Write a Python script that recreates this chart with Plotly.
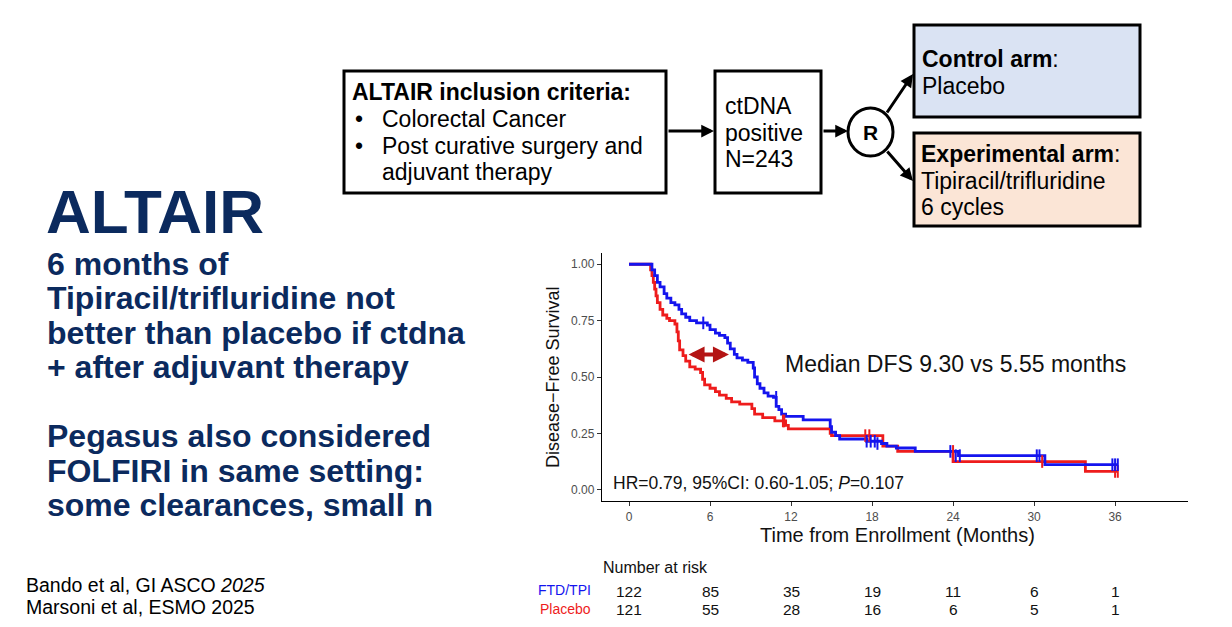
import plotly.graph_objects as go

# page offset of the plot div (body margin), and figure size that fits the window
OFF = 8
W, H = 1232 - 2 * OFF, 627 - 2 * OFF

# Kaplan-Meier, FTD/TPI (blue) - step times (months) and survival after each step
ftd_t = [0, 1.7, 1.9, 2.1, 2.3, 2.6, 2.8, 3.1, 3.4, 3.7, 3.9, 4.2, 4.5, 5.0, 5.8, 6.0,
         6.4, 6.7, 7.1, 7.3, 7.5, 7.8, 8.0, 8.4, 8.8, 9.2, 9.3, 9.5, 9.7, 10.0, 10.3,
         10.7, 10.9, 11.1, 11.3, 11.6, 12.9, 14.9, 15.0, 15.3, 15.6, 17.6, 18.7, 19.1,
         19.8, 21.2, 24.4, 30.8, 36.2]
ftd_s = [1.0, 0.975, 0.95, 0.92, 0.90, 0.87, 0.85, 0.83, 0.82, 0.80, 0.78, 0.765, 0.75,
         0.74, 0.73, 0.71, 0.695, 0.685, 0.675, 0.65, 0.625, 0.60, 0.585, 0.575, 0.565,
         0.54, 0.50, 0.47, 0.45, 0.43, 0.415, 0.41, 0.37, 0.355, 0.335, 0.325, 0.31,
         0.28, 0.255, 0.24, 0.225, 0.215, 0.205, 0.193, 0.185, 0.17, 0.151, 0.111, 0.111]

# Placebo (red)
pbo_t = [0, 1.6, 1.7, 1.8, 1.9, 2.0, 2.1, 2.3, 2.5, 2.8, 3.0, 3.4, 3.55, 3.65, 3.75, 4.0,
         4.2, 4.5, 4.9, 5.3, 5.45, 5.6, 6.0, 6.4, 6.7, 7.2, 7.6, 8.2, 9.1, 9.3, 9.9, 10.8,
         11.6, 11.8, 14.9, 15.0, 18.8, 19.9, 24.0, 33.8, 36.2]
pbo_s = [1.0, 0.975, 0.95, 0.92, 0.89, 0.86, 0.83, 0.80, 0.775, 0.76, 0.75, 0.735, 0.70,
         0.66, 0.62, 0.595, 0.57, 0.545, 0.535, 0.52, 0.49, 0.465, 0.45, 0.435, 0.42,
         0.405, 0.39, 0.38, 0.36, 0.335, 0.32, 0.305, 0.285, 0.27, 0.25, 0.24, 0.193,
         0.17, 0.125, 0.081, 0.081]

# censoring marks
ftd_cens_t = [5.5, 10.9, 17.6, 17.9, 18.2, 18.4, 23.8, 24.2, 24.5, 30.2, 30.4, 35.8, 36.0, 36.2]
ftd_cens_s = [0.74, 0.41, 0.215, 0.215, 0.215, 0.205, 0.17, 0.151, 0.151, 0.151, 0.151,
              0.111, 0.111, 0.111]
pbo_cens_t = [11.4, 11.5, 17.5, 17.8, 24.0, 30.6, 36.0, 36.2]
pbo_cens_s = [0.305, 0.305, 0.24, 0.24, 0.17, 0.125, 0.081, 0.081]

# number at risk
risk_times = [0, 6, 12, 18, 24, 30, 36]
risk_ftd = [122, 85, 35, 19, 11, 6, 1]
risk_placebo = [121, 55, 28, 16, 6, 5, 1]

BLUE = "#1414EE"
RED = "#EE1C1C"
NAVY = "#0B2A5E"
FONT = "Arial, Liberation Sans, sans-serif"


def px(x):
    return (x - OFF) / W


def py(y):
    return 1 - (y - OFF) / H


fig = go.Figure()

# KM curves
fig.add_trace(go.Scatter(x=pbo_t, y=pbo_s, mode="lines", line=dict(color=RED, width=2.8, shape="hv"),
                         showlegend=False, hoverinfo="skip"))
fig.add_trace(go.Scatter(x=ftd_t, y=ftd_s, mode="lines", line=dict(color=BLUE, width=2.8, shape="hv"),
                         showlegend=False, hoverinfo="skip"))
fig.add_trace(go.Scatter(x=pbo_cens_t, y=pbo_cens_s, mode="markers",
                         marker=dict(symbol="line-ns-open", size=9, color=RED, line=dict(color=RED, width=2)),
                         showlegend=False, hoverinfo="skip"))
fig.add_trace(go.Scatter(x=ftd_cens_t, y=ftd_cens_s, mode="markers",
                         marker=dict(symbol="line-ns-open", size=9, color=BLUE, line=dict(color=BLUE, width=2)),
                         showlegend=False, hoverinfo="skip"))

annotations = []
shapes = []


def label(x, y, text, size=23, color="black", anchor="left", bold=False):
    if bold:
        text = "<b>" + text + "</b>"
    annotations.append(dict(x=px(x), y=py(y), xref="paper", yref="paper", text=text,
                            showarrow=False, xanchor=anchor, yanchor="middle",
                            font=dict(family=FONT, size=size, color=color)))


def arrow(x0, y0, x1, y1, width=3):
    annotations.append(dict(x=px(x1), y=py(y1), xref="paper", yref="paper", text="",
                            showarrow=True, ax=x0 - x1, ay=y0 - y1, arrowhead=2,
                            arrowsize=0.85, arrowwidth=width, arrowcolor="black", standoff=0))


def box(x0, y0, x1, y1, fill="white"):
    shapes.append(dict(type="rect", xref="paper", yref="paper", x0=px(x0), x1=px(x1),
                       y0=py(y1), y1=py(y0), line=dict(color="black", width=3), fillcolor=fill))


# flowchart
box(344, 71, 666, 193)
label(350, 92, "ALTAIR inclusion criteria:", bold=True)
label(353, 119, "•")
label(380, 119, "Colorectal Cancer")
label(353, 146, "•")
label(380, 146, "Post curative surgery and")
label(380, 172, "adjuvant therapy")
arrow(667, 131, 714, 131)

box(715, 71, 821, 193)
label(723, 106, "ctDNA")
label(723, 133, "positive")
label(723, 159, "N=243")
arrow(822, 131, 848, 131)

shapes.append(dict(type="circle", xref="paper", yref="paper", x0=px(848), x1=px(893),
                   y0=py(156), y1=py(108), line=dict(color="black", width=3), fillcolor="white"))
label(870.5, 132, "R", size=21, anchor="center", bold=True)
arrow(886, 114, 913, 74)
arrow(886, 150, 913, 181)

box(914, 25, 1140, 117, fill="#DAE3F3")
label(920, 59, "<b>Control arm</b>:")
label(920, 86, "Placebo")
box(914, 133, 1140, 226, fill="#FBE5D6")
label(919, 154, "<b>Experimental arm</b>:")
label(919, 181, "Tipiracil/trifluridine")
label(919, 207, "6 cycles")

# left text block
label(44, 212, "ALTAIR", size=62, color=NAVY, bold=True)
left_lines = [("6 months of", 264), ("Tipiracil/trifluridine not", 298),
              ("better than placebo if ctdna", 333), ("+ after adjuvant therapy", 367),
              ("Pegasus also considered", 436), ("FOLFIRI in same setting:", 471),
              ("some clearances, small n", 505)]
for txt, yy in left_lines:
    label(45, yy, txt, size=32, color=NAVY, bold=True)

label(24, 585, "Bando et al, GI ASCO <i>2025</i>", size=19.5)
label(24, 607, "Marsoni et al, ESMO 2025", size=19.5)

# KM annotations
annotations.append(dict(x=7.4, y=0.60, xref="x", yref="y", ax=4.3, ay=0.60, axref="x", ayref="y",
                        text="", showarrow=True, arrowside="end+start", arrowhead=2, arrowsize=0.8,
                        arrowwidth=4, arrowcolor="#B41414", standoff=0, startstandoff=0))
annotations.append(dict(x=11.4, y=0.556, xref="x", yref="y", text="Median DFS 9.30 vs 5.55 months",
                        showarrow=False, xanchor="left", yanchor="middle",
                        font=dict(family=FONT, size=23, color="#111111")))
annotations.append(dict(x=-1.3, y=0.03, xref="x", yref="y",
                        text="HR=0.79, 95%CI: 0.60-1.05; <i>P</i>=0.107",
                        showarrow=False, xanchor="left", yanchor="middle",
                        font=dict(family=FONT, size=17.5, color="#111111")))
label(553, 377, "Disease−Free Survival", size=18, color="#111111", anchor="center")
annotations[-1]["textangle"] = -90
label(897, 535, "Time from Enrollment (Months)", size=20, color="#111111", anchor="center")

# number at risk table
label(601, 567, "Number at risk", size=16, color="#111111")
label(593, 590, "FTD/TPI", size=14, color=BLUE, anchor="right")
label(593, 609, "Placebo", size=14, color=RED, anchor="right")
for t, a, b in zip(risk_times, risk_ftd, risk_placebo):
    annotations.append(dict(x=t, y=py(591), xref="x", yref="paper", text=str(a), showarrow=False,
                            xanchor="center", yanchor="middle",
                            font=dict(family=FONT, size=15.5, color="#111111")))
    annotations.append(dict(x=t, y=py(609), xref="x", yref="paper", text=str(b), showarrow=False,
                            xanchor="center", yanchor="middle",
                            font=dict(family=FONT, size=15.5, color="#111111")))

fig.update_layout(
    width=W, height=H, autosize=False,
    margin=dict(l=0, r=0, t=0, b=0),
    paper_bgcolor="white", plot_bgcolor="white",
    font=dict(family=FONT),
    annotations=annotations, shapes=shapes,
    xaxis=dict(domain=[px(602), px(1188)], range=[-2.0, 41.4], tickvals=risk_times,
               showline=True, linecolor="black", linewidth=1.3, showgrid=False, zeroline=False,
               ticks="outside", ticklen=4, tickcolor="#333333",
               tickfont=dict(family=FONT, size=12, color="#4D4D4D")),
    yaxis=dict(domain=[py(501), py(253)], range=[-0.05, 1.05], tickvals=[0, 0.25, 0.5, 0.75, 1.0],
               tickformat=".2f", showline=True, linecolor="black", linewidth=1.3, showgrid=False,
               zeroline=False, ticks="outside", ticklen=4, tickcolor="#333333",
               tickfont=dict(family=FONT, size=12, color="#4D4D4D")),
)

fig.write_html("out.html")
